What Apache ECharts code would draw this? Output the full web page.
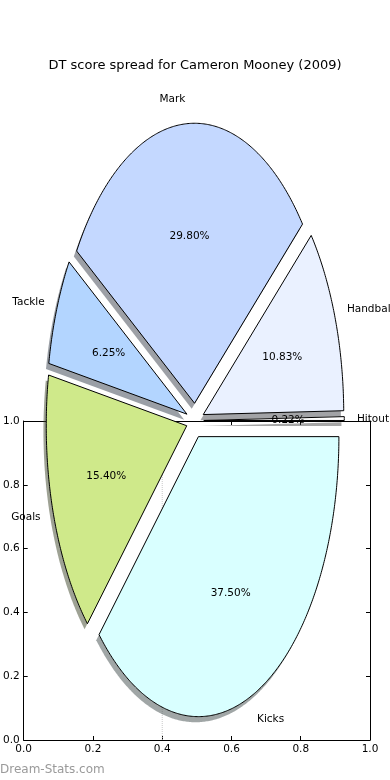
<!DOCTYPE html>
<html><head><meta charset="utf-8">
<script src="https://cdn.jsdelivr.net/npm/echarts@6/dist/echarts.min.js"></script>
<style>html,body{margin:0;padding:0;background:#fff}#c{width:390px;height:780px}</style>
</head><body><div id="c"></div>
<script>
// ---- data (counter-clockwise from 3 o'clock) ----
const categories = ['Hitout', 'Handball', 'Mark', 'Tackle', 'Goals', 'Kicks'];
const percents = [0.22, 10.83, 29.80, 6.25, 15.40, 37.50];
const percentLabels = ['0.22%', '10.83%', '29.80%', '6.25%', '15.40%', '37.50%'];
const axisTicks = [0.0, 0.2, 0.4, 0.6, 0.8, 1.0];
const guideLineX = 0.4;
const titleText = 'DT score spread for Cameron Mooney (2009)';
const watermark = 'Dream-Stats.com';

// ---- styles ----
const sliceColors = ['#ffffff', '#eaf1ff', '#c4d8ff', '#b3d5ff', '#cfe98a', '#d9ffff'];
const EXPLODE = 0.062, SHADOW_DX = -0.02, SHADOW_DY = -0.02, LABEL_R = 1.09, PCT_R = 0.6;
const FONT = '"DejaVu Sans", sans-serif';

const total = percents.reduce((a, b) => a + b, 0);
const starts = []; let acc = 0; percents.forEach(p => { starts.push(acc); acc += p; });

function geom(i) {
  const a0 = starts[i] / total * 2 * Math.PI, a1 = (starts[i] + percents[i]) / total * 2 * Math.PI;
  const am = (a0 + a1) / 2;
  return { a0, a1, am, ox: EXPLODE * Math.cos(am), oy: EXPLODE * Math.sin(am) };
}
function wedgePoints(api, g, dx, dy) {
  const pts = [api.coord([g.ox + dx, g.oy + dy])];
  const n = Math.max(2, Math.ceil((g.a1 - g.a0) / (Math.PI / 360)));
  for (let k = 0; k <= n; k++) {
    const t = g.a0 + (g.a1 - g.a0) * k / n;
    pts.push(api.coord([g.ox + dx + Math.cos(t), g.oy + dy + Math.sin(t)]));
  }
  return pts;
}
function shadowColor(hex) {
  const r = parseInt(hex.slice(1, 3), 16), g = parseInt(hex.slice(3, 5), 16), b = parseInt(hex.slice(5, 7), 16);
  return `rgba(${Math.round(r * 0.3)},${Math.round(g * 0.3)},${Math.round(b * 0.3)},0.5)`;
}

const pieData = percents.map((p, i) => ({ name: categories[i], value: [0, 0, p] }));

const axisCommon = {
  type: 'value', min: axisTicks[0], max: axisTicks[axisTicks.length - 1], interval: axisTicks[1] - axisTicks[0],
  axisLine: { show: true, onZero: false, lineStyle: { color: '#000', width: 1 } },
  axisTick: { show: true, inside: true, length: 4, lineStyle: { color: '#000' } },
  splitLine: { show: false },
  axisLabel: { show: true, color: '#000', fontFamily: FONT, fontSize: 10.5, formatter: v => v.toFixed(1) }
};

const chart = echarts.init(document.getElementById('c'), null, { renderer: 'canvas' });
chart.setOption({
  animation: false,
  backgroundColor: '#fff',
  title: {
    text: titleText, left: 'center', top: 54,
    textStyle: { fontFamily: FONT, fontSize: 13, fontWeight: 'normal', color: '#000', lineHeight: 14 }
  },
  grid: [
    { left: 20, top: 421, width: 350, height: 319, show: false },
    { left: 0, top: 0, width: 390, height: 780, show: false }
  ],
  xAxis: [
    Object.assign({}, axisCommon, { gridIndex: 0, position: 'bottom', axisLabel: Object.assign({}, axisCommon.axisLabel, { margin: 4 }) }),
    Object.assign({}, axisCommon, { gridIndex: 0, position: 'top', axisLabel: { show: false } }),
    { type: 'value', gridIndex: 1, min: -1.3884, max: 1.3874, show: false }
  ],
  yAxis: [
    Object.assign({}, axisCommon, { gridIndex: 0, position: 'left', axisLabel: Object.assign({}, axisCommon.axisLabel, { margin: 4 }) }),
    Object.assign({}, axisCommon, { gridIndex: 0, position: 'right', axisLabel: { show: false } }),
    { type: 'value', gridIndex: 1, min: -1.2836, max: 1.5021, show: false }
  ],
  series: [
    {
      type: 'line', xAxisIndex: 0, yAxisIndex: 0, z: 1, symbol: 'none', silent: true,
      data: [[guideLineX, 0], [guideLineX, 1]],
      lineStyle: { color: '#c8c8c8', width: 1, type: 'dotted' }
    },
    {
      type: 'custom', xAxisIndex: 2, yAxisIndex: 2, z: 3, silent: true, data: pieData,
      encode: { x: 0, y: 1 },
      renderItem: (params, api) => {
        const i = params.dataIndex, g = geom(i);
        return {
          type: 'polygon',
          shape: { points: wedgePoints(api, g, SHADOW_DX, SHADOW_DY) },
          style: { fill: shadowColor(sliceColors[i]), stroke: null }
        };
      }
    },
    {
      type: 'custom', xAxisIndex: 2, yAxisIndex: 2, z: 4, silent: true, data: pieData,
      encode: { x: 0, y: 1 },
      renderItem: (params, api) => {
        const i = params.dataIndex, g = geom(i);
        return {
          type: 'polygon',
          shape: { points: wedgePoints(api, g, 0, 0) },
          style: { fill: sliceColors[i], stroke: '#000', lineWidth: 1, lineJoin: 'miter' }
        };
      }
    },
    {
      type: 'custom', xAxisIndex: 2, yAxisIndex: 2, z: 5, silent: true, data: pieData,
      encode: { x: 0, y: 1 },
      renderItem: (params, api) => {
        const i = params.dataIndex, g = geom(i);
        const c = Math.cos(g.am), s = Math.sin(g.am);
        const lp = api.coord([g.ox + LABEL_R * c, g.oy + LABEL_R * s]);
        const pp = api.coord([g.ox + PCT_R * c, g.oy + PCT_R * s]);
        return {
          type: 'group',
          children: [
            { type: 'text', style: { text: categories[i], x: lp[0], y: lp[1] + 1, align: c > 0 ? 'left' : 'right', verticalAlign: 'middle', fontFamily: FONT, fontSize: 10.5, fill: '#000' } },
            { type: 'text', style: { text: percentLabels[i], x: pp[0], y: pp[1] + 1, align: 'center', verticalAlign: 'middle', fontFamily: FONT, fontSize: 10.5, fill: '#000' } }
          ]
        };
      }
    }
  ],
  graphic: [
    { type: 'text', left: 0, top: 764, z: 10, style: { text: watermark, fontFamily: FONT, fontSize: 12, fill: '#9a9a9a' } }
  ]
});
</script></body></html>
